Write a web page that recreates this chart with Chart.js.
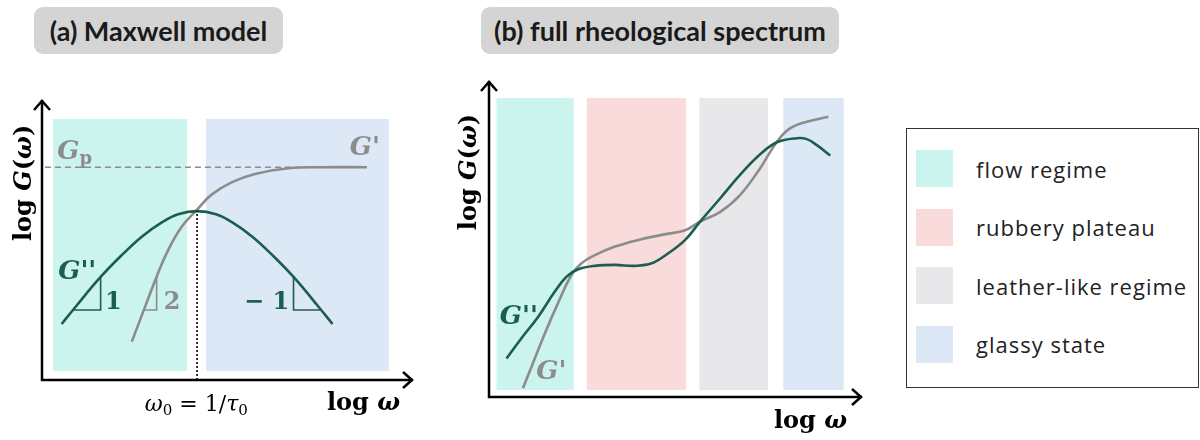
<!DOCTYPE html>
<html>
<head>
<meta charset="utf-8">
<script src="https://cdn.jsdelivr.net/npm/chart.js@4/dist/chart.umd.min.js"></script>
<style>
  body { margin: 0; background: #fff; width: 1200px; height: 440px; position: relative; overflow: hidden; }
  canvas { position: absolute; top: 0; }
  .title { position: absolute; top: 7px; height: 47px; background: #d4d4d4; border-radius: 9px;
           font: bold 27px Lato, sans-serif; color: #1a1a1a; display: flex; align-items: center; justify-content: center; }
  #legend { position: absolute; left: 906px; top: 128px; width: 291px; height: 258px; border: 1.5px solid #333; }
  .item { position: absolute; left: 9px; height: 37px; display: flex; align-items: center; }
  .sw { width: 37px; height: 37px; margin-right: 23px; }
  .lab { font: 22px 'Open Sans', sans-serif; letter-spacing: 1px; color: #222; }
</style>
</head>
<body>
<div class="title" style="left:34px;width:249px">(a) Maxwell model</div>
<div class="title" style="left:481px;width:358px">(b) full rheological spectrum</div>
<canvas id="maxwell" width="440" height="440" style="left:0"></canvas>
<canvas id="spectrum" width="440" height="440" style="left:440px"></canvas>
<div id="legend"></div>
<script>
// regimes (legend + shaded bands)
var regimeNames = ['flow regime', 'rubbery plateau', 'leather-like regime', 'glassy state'];
var regimeColors = ['#cbf4ee', '#f9dbdb', '#e8e8ea', '#dce8f5'];

// (a) Maxwell model, both axes in arbitrary log units 0..10
var maxwellBandRegime = [0, 3];
var maxwellBandFrom = [0.30, 4.42];
var maxwellBandTo = [3.91, 9.35];
var maxwellBandY = [0.32, 9.32];

var maxwellLossX = [0.53, 0.89, 1.58, 2.15, 2.69, 3.23, 3.67, 4.18, 4.69, 5.13, 5.67, 6.21, 6.78, 7.47, 7.83];
var maxwellLossY = [2.00, 2.59, 3.68, 4.46, 5.12, 5.63, 5.92, 6.03, 5.92, 5.63, 5.12, 4.46, 3.68, 2.59, 2.00];
var maxwellStorageX = [2.42, 2.78, 3.09, 3.40, 3.77, 4.18, 4.57, 5.11, 5.74, 6.64, 7.54, 8.76];
var maxwellStorageY = [1.37, 2.62, 3.69, 4.64, 5.48, 6.08, 6.62, 7.06, 7.36, 7.56, 7.60, 7.60];
var plateauX = [0.08, 8.76];
var plateauY = [7.60, 7.60];
var crossoverX = [4.18, 4.18];
var crossoverY = [0, 6.03];
var slopeOneX = [0.83, 1.58, 1.58];
var slopeOneY = [2.50, 2.50, 3.68];
var slopeTwoX = [2.78, 3.09, 3.09];
var slopeTwoY = [2.50, 2.50, 3.69];
var slopeMinusX = [6.78, 6.78, 7.53];
var slopeMinusY = [3.68, 2.50, 2.50];

// (b) full spectrum
var spectrumBandRegime = [0, 1, 2, 3];
var spectrumBandFrom = [0.20, 2.62, 5.64, 7.89];
var spectrumBandTo = [2.27, 5.28, 7.48, 9.51];
var spectrumBandY = [0.22, 9.46];

var spectrumLossX = [0.47, 0.87, 1.32, 1.76, 2.08, 2.39, 2.84, 3.38, 3.91, 4.36, 4.81, 5.26, 5.66, 6.20, 6.73, 7.27, 7.72, 8.25, 8.52, 8.79, 9.15];
var spectrumLossY = [1.22, 1.86, 2.54, 3.33, 3.81, 4.04, 4.15, 4.18, 4.15, 4.23, 4.55, 4.97, 5.55, 6.29, 7.03, 7.68, 8.06, 8.19, 8.16, 7.97, 7.64];
var spectrumStorageX = [0.91, 1.14, 1.50, 1.85, 2.21, 2.48, 2.84, 3.38, 4.00, 4.63, 5.26, 5.66, 6.20, 6.73, 7.27, 7.72, 8.07, 8.52, 9.10];
var spectrumStorageY = [0.28, 0.96, 2.02, 2.97, 3.86, 4.23, 4.49, 4.76, 4.97, 5.13, 5.28, 5.55, 5.86, 6.39, 7.24, 8.08, 8.50, 8.71, 8.87];

var TEAL = '#1b5e51', GREY = '#8c8c8c';
var BI = "bold italic 26px 'DejaVu Serif'", B = "bold 24px 'DejaVu Serif'";
var AXB = "bold 24px 'DejaVu Serif'", AXBI = "bold italic 24px 'DejaVu Serif'";
var R = "22px 'DejaVu Serif'", I = "italic 22px 'DejaVu Serif'", SUB = "15px 'DejaVu Serif'";

function pts(xs, ys) { return xs.map(function (x, i) { return { x: x, y: ys[i] }; }); }
function curve(xs, ys, color) {
  return { data: pts(xs, ys), borderColor: color, borderWidth: 2.6, tension: 0.4, pointRadius: 0 };
}
function straight(xs, ys, color, w, dash) {
  return { data: pts(xs, ys), borderColor: color, borderWidth: w, borderDash: dash || [], pointRadius: 0, tension: 0 };
}

function makeChart(id, pad, datasets, bands, notes) {
  var bandPlugin = {
    id: 'bands',
    beforeDatasetsDraw: function (chart) {
      var c = chart.ctx, xs = chart.scales.x, ys = chart.scales.y;
      var top = ys.getPixelForValue(bands.y[1]), bot = ys.getPixelForValue(bands.y[0]);
      c.save();
      bands.from.forEach(function (f, i) {
        var l = xs.getPixelForValue(f), r = xs.getPixelForValue(bands.to[i]);
        c.fillStyle = regimeColors[bands.regime[i]];
        c.fillRect(l, top, r - l, bot - top);
      });
      c.restore();
    }
  };
  var axisPlugin = {
    id: 'arrows',
    afterDatasetsDraw: function (chart) {
      var a = chart.chartArea, c = chart.ctx;
      c.save();
      c.strokeStyle = '#000'; c.lineWidth = 2.5;
      c.beginPath();
      c.moveTo(a.left, a.top); c.lineTo(a.left, a.bottom); c.lineTo(a.right, a.bottom);
      c.stroke();
      c.beginPath();
      c.moveTo(a.left - 8, a.top + 10); c.lineTo(a.left, a.top + 1); c.lineTo(a.left + 8, a.top + 10);
      c.moveTo(a.right - 10, a.bottom - 8); c.lineTo(a.right - 1, a.bottom); c.lineTo(a.right - 10, a.bottom + 8);
      c.stroke();
      c.restore();
    }
  };
  var notePlugin = {
    id: 'notes',
    afterDraw: function (chart) {
      var c = chart.ctx, xs = chart.scales.x, ys = chart.scales.y;
      notes.forEach(function (n) {
        var w = 0;
        n.parts.forEach(function (p) { c.font = p.font; w += c.measureText(p.t).width; });
        c.save();
        c.translate(xs.getPixelForValue(n.x), ys.getPixelForValue(n.y));
        if (n.rotate) c.rotate(n.rotate);
        c.fillStyle = n.color || '#000';
        c.textBaseline = 'middle';
        var x0 = n.align === 'left' ? 0 : n.align === 'right' ? -w : -w / 2;
        n.parts.forEach(function (p) {
          c.font = p.font;
          c.fillText(p.t, x0, p.dy || 0);
          x0 += c.measureText(p.t).width;
        });
        c.restore();
      });
    }
  };
  return new Chart(document.getElementById(id), {
    type: 'line',
    data: { datasets: datasets },
    options: {
      responsive: false,
      animation: false,
      events: [],
      layout: { padding: pad },
      scales: {
        x: { type: 'linear', min: 0, max: 10, display: false },
        y: { min: 0, max: 10, display: false }
      },
      plugins: { legend: { display: false }, tooltip: { enabled: false } }
    },
    plugins: [bandPlugin, axisPlugin, notePlugin]
  });
}

var logG = [{ t: 'log ', font: AXB }, { t: 'G', font: AXBI }, { t: '(', font: AXB }, { t: 'ω', font: AXBI }, { t: ')', font: AXB }];
var logW = [{ t: 'log ', font: AXB }, { t: 'ω', font: AXBI }];

makeChart('maxwell', { left: 42, right: 27, top: 100, bottom: 60 }, [
  straight(crossoverX, crossoverY, '#000', 1.6, [2, 2]),
  straight(plateauX, plateauY, GREY, 1.6, [6, 4]),
  straight(slopeOneX, slopeOneY, TEAL, 1.6),
  straight(slopeTwoX, slopeTwoY, GREY, 1.6),
  straight(slopeMinusX, slopeMinusY, TEAL, 1.6),
  curve(maxwellLossX, maxwellLossY, TEAL),
  curve(maxwellStorageX, maxwellStorageY, GREY)
], { regime: maxwellBandRegime, from: maxwellBandFrom, to: maxwellBandTo, y: maxwellBandY }, [
  { x: 0.41, y: 8.15, align: 'left', color: GREY, parts: [{ t: 'G', font: BI }, { t: 'p', font: "bold 18px 'DejaVu Serif'", dy: 8 }] },
  { x: 8.70, y: 8.29, color: GREY, parts: [{ t: "G'", font: BI }] },
  { x: 0.95, y: 3.86, color: TEAL, parts: [{ t: "G''", font: BI }] },
  { x: 1.92, y: 2.75, color: TEAL, parts: [{ t: '1', font: B }] },
  { x: 3.51, y: 2.75, color: GREY, parts: [{ t: '2', font: B }] },
  { x: 6.66, y: 2.75, align: 'right', color: TEAL, parts: [{ t: '− 1', font: B }] },
  { x: 4.16, y: -0.89, parts: [{ t: 'ω', font: I }, { t: '0', font: SUB, dy: 6 }, { t: ' = 1/', font: R }, { t: 'τ', font: I }, { t: '0', font: SUB, dy: 6 }] },
  { x: 9.65, y: -0.86, align: 'right', parts: logW },
  { x: -0.46, y: 7.04, rotate: -Math.PI / 2, parts: logG }
]);

makeChart('spectrum', { left: 49, right: 18, top: 81, bottom: 43 }, [
  curve(spectrumLossX, spectrumLossY, TEAL),
  curve(spectrumStorageX, spectrumStorageY, GREY)
], { regime: spectrumBandRegime, from: spectrumBandFrom, to: spectrumBandTo, y: spectrumBandY }, [
  { x: 0.80, y: 2.53, color: TEAL, parts: [{ t: "G''", font: BI }] },
  { x: 1.67, y: 0.79, color: GREY, parts: [{ t: "G'", font: BI }] },
  { x: 9.60, y: -0.79, align: 'right', parts: logW },
  { x: -0.52, y: 7.12, rotate: -Math.PI / 2, parts: logG }
]);

// legend box built from the regime list
var legend = document.getElementById('legend');
regimeNames.forEach(function (name, i) {
  var item = document.createElement('div');
  item.className = 'item';
  item.style.top = (21 + i * 58.5) + 'px';
  item.innerHTML = '<span class="sw" style="background:' + regimeColors[i] + '"></span><span class="lab">' + name + '</span>';
  legend.appendChild(item);
});
</script>
</body>
</html>
